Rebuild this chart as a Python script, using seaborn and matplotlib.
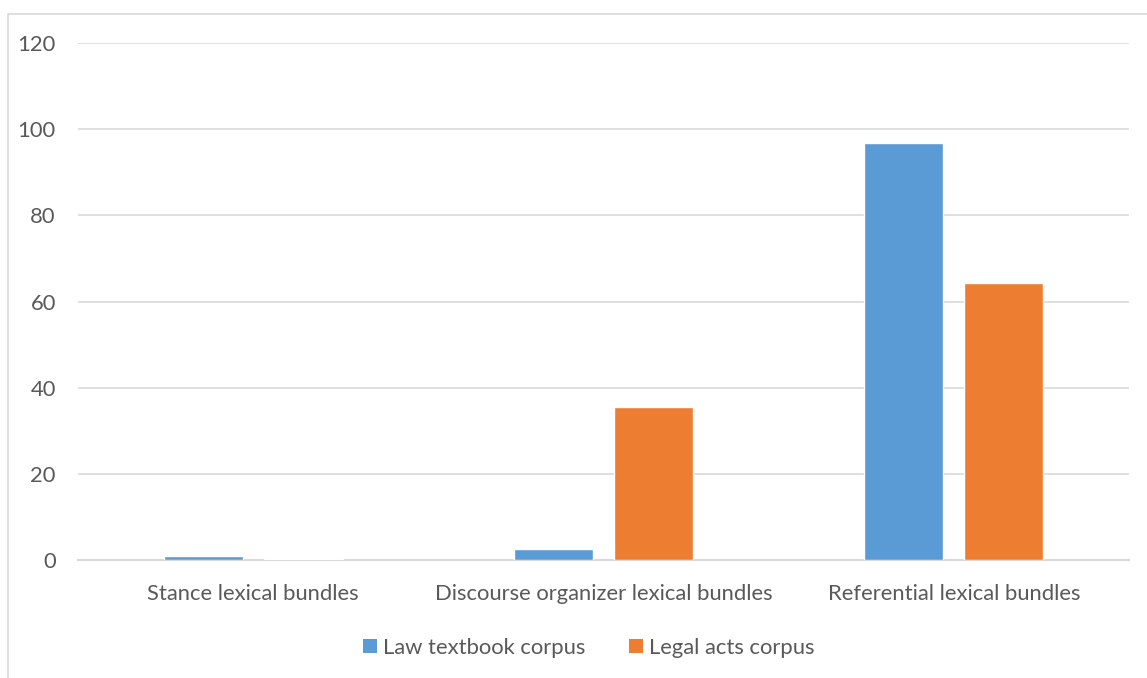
import matplotlib
matplotlib.use("Agg")
import matplotlib.pyplot as plt
import seaborn as sns
import pandas as pd
from matplotlib.patches import Rectangle, Patch

categories = ["Stance lexical bundles", "Discourse organizer lexical bundles", "Referential lexical bundles"]
series_names = ["Law textbook corpus", "Legal acts corpus"]
law_textbook = [1.0, 2.6, 96.8]
legal_acts = [0.3, 35.5, 64.4]
yticks = [0, 20, 40, 60, 80, 100, 120]
colors = ["#5B9BD5", "#ED7D31"]

df = pd.DataFrame({
    "category": categories * 2,
    "series": [series_names[0]] * 3 + [series_names[1]] * 3,
    "value": law_textbook + legal_acts,
})

sns.set_theme(style="white")
plt.rcParams["font.family"] = ["Lato", "DejaVu Sans"]

fig = plt.figure(figsize=(11.47, 6.78), dpi=100)
ax = fig.add_axes([78/1147, 1-560/678, (1129-78)/1147, (560-43)/678])

sns.barplot(data=df, x="category", y="value", hue="series", order=categories,
            hue_order=series_names, palette=colors, width=0.571, gap=0.21,
            saturation=1, ax=ax, legend=False)

ax.set_ylim(0, 120)
ax.set_xlim(-0.5, 2.5)
ax.set_yticks(yticks)
ax.set_yticklabels([str(t) for t in yticks])
ax.yaxis.grid(True, color="#D9D9D9", linewidth=1.2)
ax.set_axisbelow(True)
for s in ["top", "right", "left"]:
    ax.spines[s].set_visible(False)
ax.spines["bottom"].set_color("#D9D9D9")
ax.spines["bottom"].set_linewidth(1.5)
ax.spines["bottom"].set_zorder(0.5)
ax.tick_params(axis="both", length=0, labelsize=15.8, labelcolor="#595959")
ax.tick_params(axis="y", pad=16)
ax.tick_params(axis="x", pad=17.5)
ax.set_xlabel("")
ax.set_ylabel("")

handles = [Patch(facecolor=c, edgecolor="none") for c in colors]
fig.legend(handles, series_names, loc="center", bbox_to_anchor=(589/1147, 1-648/678),
           ncol=2, frameon=False, fontsize=15.8, handlelength=0.6, handleheight=0.6,
           handletextpad=0.3, columnspacing=2.0, labelcolor="#595959")

fig.patches.append(Rectangle((8/1147, -0.1), 1.2, 1-14/678+0.1, transform=fig.transFigure,
                             fill=False, edgecolor="#D9D9D9", linewidth=1.2))

fig.savefig("out.png", dpi=100)
